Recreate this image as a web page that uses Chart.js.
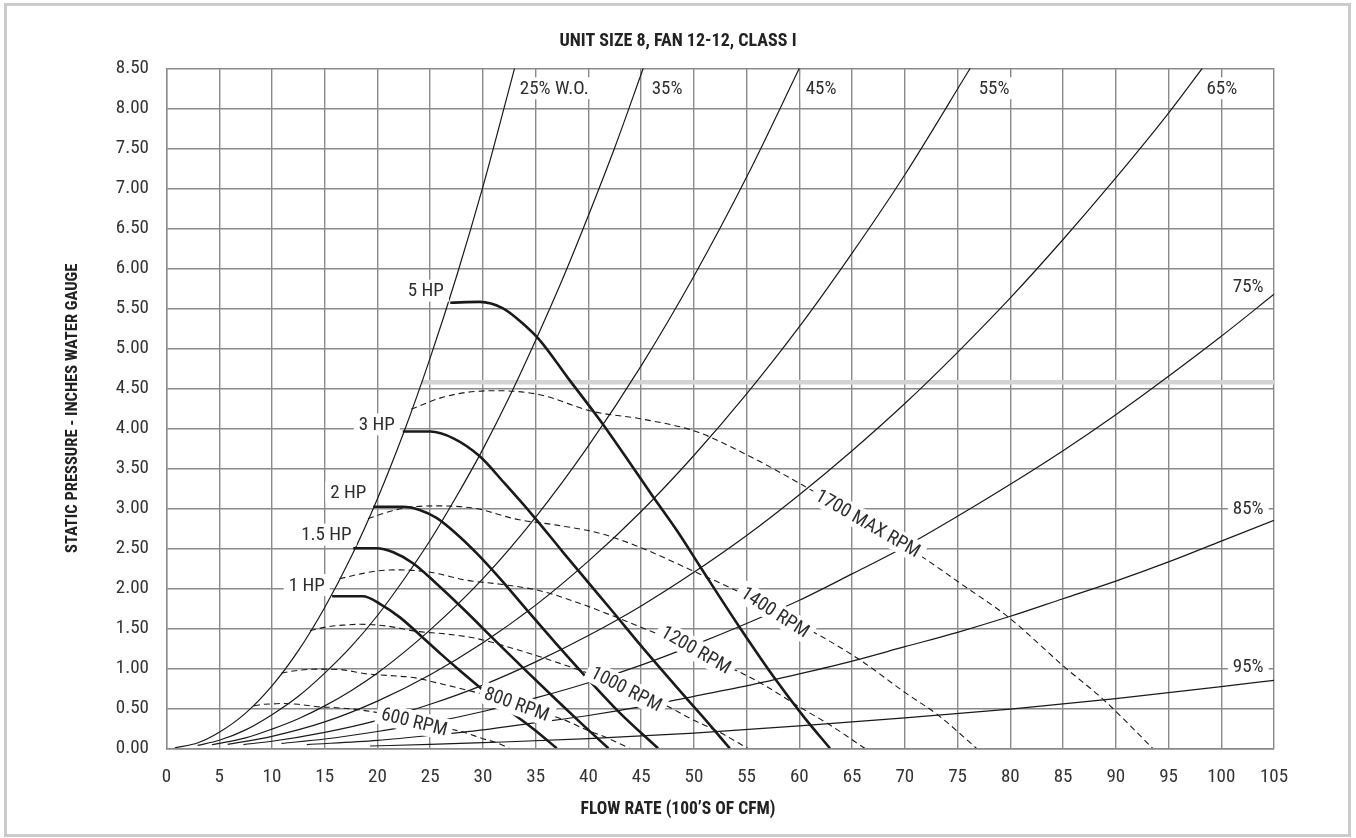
<!DOCTYPE html>
<html>
<head>
<meta charset="utf-8">
<title>Unit Size 8, Fan 12-12, Class I</title>
<script src="https://cdn.jsdelivr.net/npm/chart.js@4.4.0/dist/chart.umd.min.js"></script>
<style>
    html, body { margin: 0; padding: 0; background: #fff; }
    #fanChart { display: block; }
</style>
</head>
<body>
<canvas id="fanChart" width="1356" height="838"></canvas>
<script>
// System curves (% wide open), [flow, static pressure]
const wo25 = [[0.8,0.005],[3,0.07],[5,0.2],[7.5,0.44],[10,0.78],[12.5,1.22],[15,1.76],[17.5,2.39],[20,3.12],[22.5,3.95],[25,4.88],[27.5,5.9],[30,7.02],[33,8.5]];
const wo35 = [[2.95,0.036],[5,0.1],[7.5,0.23],[10,0.42],[12.5,0.65],[15,0.94],[17.5,1.27],[20,1.66],[22.5,2.11],[25,2.6],[27.5,3.15],[30,3.74],[32.5,4.39],[35,5.1],[37.5,5.85],[40,6.66],[42.5,7.51],[45.2,8.5]];
const wo45 = [[4.3,0.044],[7.5,0.13],[10,0.24],[12.5,0.37],[15,0.53],[17.5,0.72],[20,0.94],[25,1.48],[30,2.12],[35,2.89],[40,3.78],[45,4.78],[50,5.9],[55,7.14],[60,8.5]];
const wo55 = [[5.8,0.049],[10,0.15],[15,0.33],[20,0.59],[25,0.92],[30,1.32],[35,1.79],[40,2.34],[45,2.96],[50,3.66],[55,4.43],[60,5.27],[65,6.19],[70,7.17],[76.2,8.5]];
const wo65 = [[7.3,0.047],[10,0.088],[15,0.2],[20,0.35],[25,0.55],[30,0.79],[35,1.08],[40,1.41],[45,1.78],[50,2.2],[55,2.66],[60,3.17],[65,3.72],[70,4.31],[75,4.95],[80,5.63],[85,6.36],[90,7.13],[95,7.94],[98.2,8.5]];
const wo75 = [[10.9,0.061],[15,0.116],[20,0.21],[25,0.32],[30,0.46],[35,0.63],[40,0.82],[45,1.04],[50,1.29],[55,1.56],[60,1.85],[65,2.18],[70,2.52],[75,2.9],[80,3.3],[85,3.72],[90,4.17],[95,4.65],[100,5.15],[105,5.675]];
const wo85 = [[13.3,0.046],[20,0.1],[25,0.16],[30,0.23],[35,0.32],[40,0.41],[45,0.52],[50,0.65],[55,0.78],[60,0.93],[65,1.09],[70,1.27],[75,1.45],[80,1.65],[85,1.87],[90,2.09],[95,2.33],[100,2.59],[105,2.85]];
const wo95 = [[19.3,0.029],[25,0.048],[30,0.07],[40,0.12],[50,0.19],[60,0.28],[70,0.38],[80,0.49],[90,0.62],[100,0.77],[105,0.85]];

// Fan speed curves
const rpm600 = [[8.3,0.53],[9.2,0.55],[10.1,0.555],[11,0.56],[12.5,0.55],[14.3,0.52],[15.8,0.51],[17.7,0.49],[19.4,0.46],[21.3,0.41],[23.4,0.35],[25,0.3],[26.6,0.25],[28.2,0.2],[30,0.12],[31.3,0.07],[32.5,0]];
const rpm800 = [[10.9,0.94],[12.2,0.97],[13.4,0.985],[14.7,0.99],[16.7,0.98],[19,0.93],[21.1,0.91],[23.6,0.88],[25.9,0.81],[28.4,0.73],[31.3,0.63],[33.4,0.54],[35.5,0.45],[37.6,0.36],[40,0.22],[41.8,0.13],[43.9,0]];
const rpm1000 = [[13.6,1.47],[15.3,1.52],[16.8,1.54],[18.4,1.55],[20.8,1.53],[23.8,1.46],[26.4,1.43],[29.5,1.37],[32.3,1.27],[35.5,1.14],[39.1,0.98],[41.8,0.85],[44.4,0.71],[47,0.56],[50,0.35],[52.3,0.21],[55.1,0]];
const rpm1200 = [[16.4,2.12],[18.4,2.18],[20.1,2.22],[22.1,2.23],[25,2.2],[28.5,2.1],[31.7,2.05],[35.4,1.97],[38.8,1.83],[42.6,1.64],[46.9,1.41],[50.2,1.22],[53.3,1.02],[56.4,0.81],[60.1,0.51],[62.8,0.3],[66.2,0]];
const rpm1400 = [[19.1,2.87],[21.4,2.97],[23.5,3.02],[25.8,3.03],[29.2,3.0],[33.3,2.86],[37,2.79],[41.3,2.68],[45.3,2.49],[49.7,2.23],[54.8,1.92],[58.5,1.65],[62.2,1.39],[65.8,1.1],[70.1,0.69],[73.2,0.41],[76.8,0]];
const rpm1700 = [[23.2,4.24],[26,4.38],[28.5,4.45],[31.3,4.47],[35.4,4.42],[40.4,4.21],[44.9,4.12],[50.2,3.96],[55,3.67],[60.3,3.29],[66.5,2.81],[71.1,2.44],[75.5,2.04],[79.9,1.63],[85.1,1.02],[88.9,0.6],[93.5,0]];

// Motor horsepower limits
const hp1 = [[15.7,1.9],[18.6,1.9],[20.3,1.8],[22.1,1.64],[24,1.42],[26,1.18],[28,0.95],[30,0.73],[32.5,0.47],[35,0.22],[37,0]];
const hp15 = [[17.7,2.5],[19.9,2.5],[21.5,2.45],[23.4,2.31],[25.5,2.07],[28,1.76],[31.6,1.29],[34,0.98],[37,0.6],[39.5,0.29],[41.9,0]];
const hp2 = [[19.6,3.02],[22.4,3.02],[24,2.98],[25.6,2.88],[27.5,2.68],[29.4,2.44],[31.5,2.14],[34.1,1.74],[37,1.3],[40,0.86],[43,0.44],[46.6,0]];
const hp3 = [[22.4,3.96],[25,3.96],[27.2,3.875],[29.7,3.65],[32,3.32],[34.8,2.9],[37.6,2.45],[40,2.07],[42.3,1.71],[45,1.28],[48,0.82],[51,0.37],[53.4,0]];
const hp5 = [[26.9,5.57],[29.7,5.58],[31.9,5.5],[33.7,5.32],[35.4,5.1],[38,4.64],[41.1,4.1],[43.5,3.65],[46.1,3.15],[48.5,2.7],[50.6,2.27],[54.3,1.52],[57.8,0.85],[60.5,0.38],[62.9,0]];

// Grey limit line
const limitLine = [[24.2,4.575],[105,4.575]];

// Curve labels and where they sit (data units)
const woNames = ['25% W.O.', '35%', '45%', '55%', '65%', '75%', '85%', '95%'];
const woLabelAt = [[33.5,8.25],[46.0,8.25],[60.6,8.25],[77.0,8.25],[98.6,8.25],[101.1,5.78],[101.1,3.0],[101.1,1.02]];
const rpmNames = ['600 RPM', '800 RPM', '1000 RPM', '1200 RPM', '1400 RPM', '1700 MAX RPM'];
const rpmLabelAt = [[23.5,0.33],[33.2,0.55],[43.6,0.74],[50.2,1.23],[57.7,1.7],[66.5,2.81]];
const hpNames = ['1 HP', '1.5 HP', '2 HP', '3 HP', '5 HP'];
const hpLabelAt = [[15.0,2.04],[17.55,2.67],[18.95,3.2],[21.65,4.05],[26.3,5.72]];

const FONT = '"Roboto Condensed", "DejaVu Sans Condensed", sans-serif';
const rpmAngles = [14, 20, 27, 30, 33, 30]; // degrees, text follows the dashed line

function toXY(pts) {
    return pts.map(p => ({ x: p[0], y: p[1] }));
}

function curve(label, pts, width, dash, order) {
    return {
        label: label,
        data: toXY(pts),
        borderColor: '#1a1a1a',
        borderWidth: width,
        borderDash: dash,
        pointRadius: 0,
        fill: false,
        cubicInterpolationMode: 'monotone',
        order: order
    };
}

// Draws a text with a white box behind it, like the printed chart
function boxedText(ctx, text, px, py, angle, align) {
    ctx.save();
    ctx.translate(px, py);
    ctx.rotate(angle * Math.PI / 180);
    ctx.font = '19px ' + FONT;
    const w = ctx.measureText(text).width;
    let x0 = 0;
    if (align === 'center') x0 = -w / 2;
    if (align === 'right') x0 = -w;
    ctx.fillStyle = '#ffffff';
    ctx.fillRect(x0 - 5, -11, w + 10, 22);
    ctx.fillStyle = '#2e2e2e';
    ctx.textAlign = 'left';
    ctx.textBaseline = 'middle';
    ctx.fillText(text, x0, 1);
    ctx.restore();
}

const curveLabels = {
    id: 'curveLabels',
    afterDatasetsDraw(chart) {
        const ctx = chart.ctx;
        const xs = chart.scales.x;
        const ys = chart.scales.y;
        woNames.forEach((t, i) => {
            boxedText(ctx, t, xs.getPixelForValue(woLabelAt[i][0]), ys.getPixelForValue(woLabelAt[i][1]), 0, 'left');
        });
        rpmNames.forEach((t, i) => {
            boxedText(ctx, t, xs.getPixelForValue(rpmLabelAt[i][0]), ys.getPixelForValue(rpmLabelAt[i][1]), rpmAngles[i], 'center');
        });
        hpNames.forEach((t, i) => {
            boxedText(ctx, t, xs.getPixelForValue(hpLabelAt[i][0]), ys.getPixelForValue(hpLabelAt[i][1]), 0, 'right');
        });
    }
};

// White page with the light grey frame around it
const pageFrame = {
    id: 'pageFrame',
    beforeDraw(chart) {
        const ctx = chart.ctx;
        ctx.save();
        ctx.fillStyle = '#ffffff';
        ctx.fillRect(0, 0, chart.width, chart.height);
        ctx.strokeStyle = '#cbcbcb';
        ctx.lineWidth = 3;
        ctx.strokeRect(5.5, 4.5, 1344, 831);
        ctx.restore();
    }
};

const datasets = [
    { label: 'limit', data: toXY(limitLine), borderColor: '#d3d3d3', borderWidth: 4.5, pointRadius: 0, order: 5 },
    curve('25% W.O.', wo25, 1.2, [], 4),
    curve('35%', wo35, 1.2, [], 4),
    curve('45%', wo45, 1.2, [], 4),
    curve('55%', wo55, 1.2, [], 4),
    curve('65%', wo65, 1.2, [], 4),
    curve('75%', wo75, 1.2, [], 4),
    curve('85%', wo85, 1.2, [], 4),
    curve('95%', wo95, 1.2, [], 4),
    curve('600 RPM', rpm600, 1.1, [6, 4], 3),
    curve('800 RPM', rpm800, 1.1, [6, 4], 3),
    curve('1000 RPM', rpm1000, 1.1, [6, 4], 3),
    curve('1200 RPM', rpm1200, 1.1, [6, 4], 3),
    curve('1400 RPM', rpm1400, 1.1, [6, 4], 3),
    curve('1700 MAX RPM', rpm1700, 1.1, [6, 4], 3),
    curve('1 HP', hp1, 2.6, [], 2),
    curve('1.5 HP', hp15, 2.6, [], 2),
    curve('2 HP', hp2, 2.6, [], 2),
    curve('3 HP', hp3, 2.6, [], 2),
    curve('5 HP', hp5, 2.6, [], 2)
];

Chart.defaults.font.family = FONT;
Chart.defaults.color = '#333333';

const ctx = document.getElementById('fanChart').getContext('2d');
const fanChart = new Chart(ctx, {
    type: 'line',
    data: { datasets: datasets },
    options: {
        responsive: false,
        animation: false,
        layout: { padding: { left: 82, right: 82, top: 0, bottom: 0 } },
        scales: {
            x: {
                type: 'linear',
                min: 0,
                max: 105,
                ticks: { stepSize: 5, padding: 18, font: { size: 19 }, color: '#333333' },
                grid: { color: '#8a8a8a', lineWidth: 1.4, drawTicks: false },
                border: { color: '#8a8a8a', width: 1.4 },
                afterFit(scale) { scale.height = 51.2; }
            },
            y: {
                min: 0,
                max: 8.5,
                ticks: {
                    stepSize: 0.5,
                    padding: 17.5,
                    font: { size: 19 },
                    color: '#333333',
                    callback: v => v.toFixed(2)
                },
                grid: { color: '#8a8a8a', lineWidth: 1.4, drawTicks: false },
                border: { color: '#8a8a8a', width: 1.4 },
                title: {
                    display: true,
                    text: 'STATIC PRESSURE - INCHES WATER GAUGE',
                    font: { size: 16.5, weight: 'bold' },
                    color: '#222222',
                    padding: { top: -18.9, bottom: 0 }
                },
                afterFit(scale) { scale.width = 84.5; }
            }
        },
        plugins: {
            legend: { display: false },
            tooltip: { enabled: false },
            title: {
                display: true,
                text: 'UNIT SIZE 8, FAN 12-12, CLASS I',
                font: { size: 18, weight: 'bold' },
                color: '#222222',
                padding: { top: 30.2, bottom: 16.5 }
            },
            subtitle: {
                display: true,
                position: 'bottom',
                text: 'FLOW RATE (100\u2019S OF CFM)',
                font: { size: 17.5, weight: 'bold' },
                color: '#222222',
                padding: { top: 0, bottom: 17.5 }
            }
        }
    },
    plugins: [pageFrame, curveLabels]
});
</script>
</body>
</html>
